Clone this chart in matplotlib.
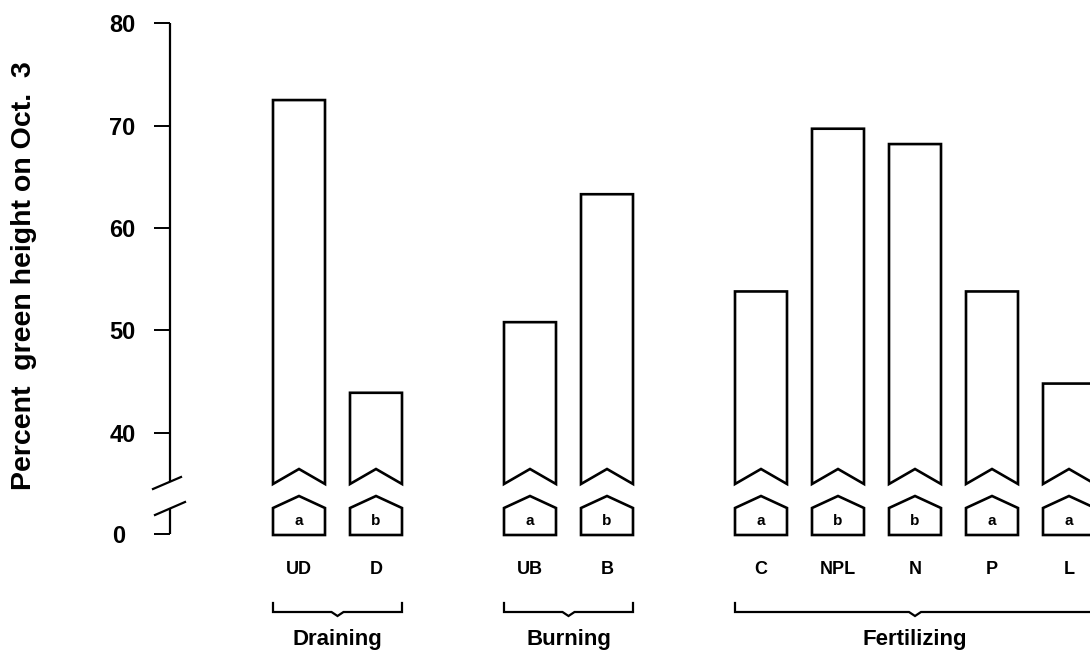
import matplotlib
matplotlib.use("Agg")
import matplotlib.pyplot as plt
from matplotlib.patches import Polygon
import matplotlib.transforms as mtransforms

plt.rcParams['font.family'] = ['Liberation Sans', 'DejaVu Sans']

# ---- data ----
categories = ['UD', 'D', 'UB', 'B', 'C', 'NPL', 'N', 'P', 'L']
values = [72.5, 43.9, 50.8, 63.3, 53.8, 69.7, 68.2, 53.8, 44.8]
letters = ['a', 'b', 'a', 'b', 'a', 'b', 'b', 'a', 'a']
groups = ['Draining', 'Burning', 'Fertilizing']
group_sizes = [2, 2, 5]
ytick_values = [40, 50, 60, 70, 80]
ylabel = 'Percent  green height on Oct.  3'

# ---- layout helpers (pixel geometry of the figure) ----
W, H = 1090, 662
PX_PER_UNIT = 10.235
Y80_PX = 23.3
def pv(px):  # pixel row -> value coordinate on the (broken) y scale
    return 80 - (px - Y80_PX) / PX_PER_UNIT

X0_PX, STEP = 299.0, 77.0
def pi(px):  # pixel column -> x index coordinate
    return (px - X0_PX) / STEP

ZERO = pv(534)          # displayed position of 0 below the break
BAR_BOTTOM = pv(484)
NOTCH = pv(469)
HOUSE_APEX = pv(496)
HOUSE_SHOULDER = pv(508)
HOUSE_BOTTOM = pv(535)
BW = 52 / STEP
LW = 1.9

fig = plt.figure(figsize=(W / 100, H / 100), dpi=100)
ax = fig.add_axes([0, 0, 1, 1])
ax.set_xlim(pi(0), pi(W))
ax.set_ylim(pv(H), pv(0))
ax.set_facecolor('white')
for s in ['top', 'right', 'bottom', 'left']:
    ax.spines[s].set_visible(False)

# x positions from group structure (one empty slot between groups)
xpos = []
cur = 0
for n in group_sizes:
    for k in range(n):
        xpos.append(cur + k)
    cur += n + 1

# ---- bars ----
for x, v, lt in zip(xpos, values, letters):
    x0, x1 = x - BW / 2, x + BW / 2
    top = Polygon([(x0, v), (x1, v), (x1, BAR_BOTTOM), (x, NOTCH), (x0, BAR_BOTTOM)],
                  closed=True, facecolor='white', edgecolor='black', lw=LW,
                  joinstyle='miter', clip_on=False)
    ax.add_patch(top)
    house = Polygon([(x0, HOUSE_BOTTOM), (x1, HOUSE_BOTTOM), (x1, HOUSE_SHOULDER),
                     (x, HOUSE_APEX), (x0, HOUSE_SHOULDER)],
                    closed=True, facecolor='white', edgecolor='black', lw=LW,
                    joinstyle='miter', clip_on=False)
    ax.add_patch(house)
    ax.text(x, pv(521), lt, ha='center', va='center', fontsize=11,
            fontweight='bold', clip_on=False)

# ---- category labels ----
for x, c in zip(xpos, categories):
    ax.text(x, pv(570), c, ha='center', va='center', fontsize=13,
            fontweight='bold', clip_on=False)

# ---- group braces and labels ----
i = 0
for g, n in zip(groups, group_sizes):
    xs = xpos[i:i + n]
    i += n
    xl, xr = xs[0] - BW / 2, xs[-1] + BW / 2
    xc = (xs[0] + xs[-1]) / 2
    d = 6 / STEP
    ytop, yh, ydip = pv(603), pv(612), pv(616)
    ax.plot([xl, xl, xc - d, xc, xc + d, xr, xr],
            [ytop, yh, yh, ydip, yh, yh, ytop],
            color='black', lw=1.6, clip_on=False, solid_joinstyle='miter')
    ax.text(xc, pv(640), g, ha='center', va='center', fontsize=16,
            fontweight='bold', clip_on=False)

# ---- y axis with break ----
AX_X = pi(170.5)
ax.plot([AX_X, AX_X], [80, pv(482)], color='black', lw=1.6, solid_capstyle='butt')
ax.plot([AX_X, AX_X], [ZERO, pv(508)], color='black', lw=1.6, solid_capstyle='butt')
ax.plot([pi(153), pi(181)], [pv(489), pv(477)], color='black', lw=1.6)
ax.plot([pi(155), pi(185)], [pv(515), pv(502)], color='black', lw=1.6)

ax.spines['left'].set_position(('data', AX_X))
ax.set_yticks([ZERO] + ytick_values)
ax.set_yticklabels(['0'] + [str(v) for v in ytick_values])
ax.tick_params(axis='y', direction='out', length=11.2, width=1.4,
               pad=14, labelsize=17, colors='black')
for lab in ax.get_yticklabels():
    lab.set_fontweight('bold')
zero_lab = ax.get_yticklabels()[0]
zero_lab.set_transform(zero_lab.get_transform() +
                       mtransforms.ScaledTranslation(-10 / 100, 0, fig.dpi_scale_trans))
ax.set_xticks([])

fig.text(24 / W, 1 - 276 / H, ylabel, rotation=90, ha='center', va='center',
         fontsize=20.5, fontweight='bold')

fig.savefig('out.png', dpi=100, facecolor='white')
